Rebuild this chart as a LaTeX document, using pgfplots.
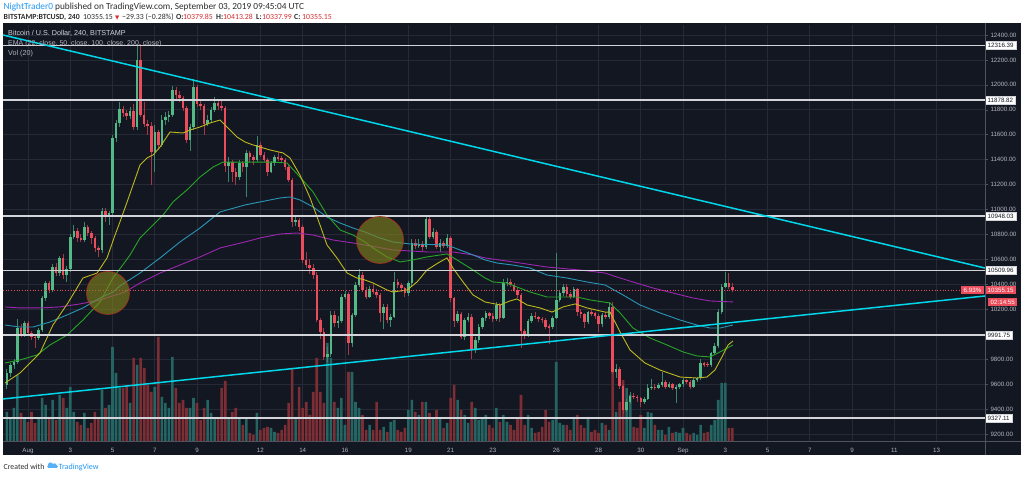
\documentclass[border=0pt]{standalone}
\usepackage{pgfplots}
\pgfplotsset{compat=1.18}
\usepackage{pgfplotstable}
\usepackage{fontspec}
\setmainfont{Liberation Sans}
\newfontfamily\dejavu{DejaVu Sans}
\newfontfamily\carl{Carlito}
\definecolor{bg}{RGB}{19,23,34}
\definecolor{gridc}{RGB}{38,42,54}
\definecolor{tickc}{RGB}{178,181,190}
\definecolor{sepc}{RGB}{80,83,94}
\definecolor{upc}{RGB}{83,185,135}
\definecolor{dnc}{RGB}{235,77,92}
\definecolor{upw}{RGB}{60,135,105}
\definecolor{dnw}{RGB}{165,58,70}
\definecolor{volup}{RGB}{36,100,98}
\definecolor{voldn}{RGB}{124,46,52}
\definecolor{emaa}{RGB}{190,185,30}
\definecolor{emab}{RGB}{40,165,40}
\definecolor{emac}{RGB}{40,150,180}
\definecolor{emad}{RGB}{156,39,176}
\definecolor{cyanl}{RGB}{0,215,235}
\definecolor{hl}{RGB}{210,212,218}
\definecolor{tvblue}{RGB}{33,150,243}
\definecolor{hdrred}{RGB}{215,45,50}
\definecolor{hdrtxt}{RGB}{45,45,45}
\definecolor{legc}{RGB}{209,212,220}
\definecolor{olivec}{RGB}{128,128,28}
\definecolor{circedge}{RGB}{170,45,30}

\pgfplotstableread{
k o h l c v
0 9593 9720 9560 9687 29
1 9687 9770 9660 9754 23
2 9754 9800 9720 9775 33
3 9775 10120 9760 10053 66
4 10053 10080 9975 9994 28
5 9994 10110 9980 10088 23
6 10088 10105 9990 10007 19
7 10007 10030 9950 9981 29
8 9981 10000 9890 9973 18
9 9973 10050 9950 10034 23
10 10034 10310 10020 10290 43
11 10290 10430 10270 10409 36
12 10409 10430 10330 10355 24
13 10355 10560 10340 10542 41
14 10542 10570 10470 10489 21
15 10489 10630 10470 10609 46
16 10609 10640 10440 10475 43
17 10475 10550 10420 10524 33
18 10524 10800 10500 10783 54
19 10783 10880 10760 10828 29
20 10828 10850 10740 10770 19
21 10770 10800 10740 10756 16
22 10756 10900 10740 10858 28
23 10858 10880 10790 10810 13
24 10810 10830 10720 10770 18
25 10770 10790 10660 10689 29
26 10689 10710 10620 10676 24
27 10676 11010 10650 10989 51
28 10989 11010 10900 10948 33
29 10948 10990 10880 10970 36
30 10970 11600 10950 11571 94
31 11571 11720 11540 11692 68
32 11692 11860 11660 11807 53
33 11807 11830 11740 11772 53
34 11772 11800 11720 11753 56
35 11753 11820 11730 11790 38
36 11790 11850 11640 11665 83
37 11665 12310 11640 12200 76
38 12200 12325 11740 11760 83
39 11760 11860 11660 11690 73
40 11690 11720 11600 11670 56
41 11670 11700 11200 11464 49
42 11464 11680 11300 11625 54
43 11625 11640 11480 11518 104
44 11518 11760 11500 11718 44
45 11718 11780 11680 11740 38
46 11740 11790 11700 11758 33
47 11758 11990 11740 11959 84
48 11959 11980 11890 11919 53
49 11919 11950 11860 11892 38
50 11892 11910 11790 11812 41
51 11812 11830 11530 11560 33
52 11560 11690 11470 11660 33
53 11660 12050 11640 11985 43
54 11985 12000 11820 11845 38
55 11845 11880 11800 11830 21
56 11830 11850 11600 11690 33
57 11690 11760 11670 11718 41
58 11718 11820 11700 11798 28
59 11798 11900 11780 11858 23
60 11858 11880 11800 11830 23
61 11830 11880 11790 11815 53
62 11815 11830 11300 11350 60
63 11350 11420 11220 11384 23
64 11384 11400 11220 11304 29
65 11304 11330 11200 11264 33
66 11264 11400 11240 11371 23
67 11371 11390 11300 11345 16
68 11345 11480 11100 11451 23
69 11451 11470 11380 11420 8
70 11420 11440 11360 11395 6
71 11395 11590 11380 11518 28
72 11518 11540 11420 11438 11
73 11438 11460 11380 11398 13
74 11398 11410 11270 11304 14
75 11304 11390 11290 11371 13
76 11371 11440 11350 11424 9
77 11424 11460 11390 11410 8
78 11410 11430 11370 11395 11
79 11395 11410 11320 11344 16
80 11344 11360 11220 11237 38
81 11237 11250 10860 10903 73
82 10903 10940 10870 10915 24
83 10915 10930 10830 10863 54
84 10863 10880 10570 10596 33
85 10596 10660 10530 10556 39
86 10556 10600 10480 10529 26
87 10529 10560 10440 10475 49
88 10475 10500 10100 10115 83
89 10115 10130 9960 10021 49
90 10021 10050 9790 9820 38
91 9820 9900 9780 9840 98
92 9840 10190 9820 10155 83
93 10155 10190 10060 10093 39
94 10093 10150 10050 10110 33
95 10110 10320 10090 10302 43
96 10302 10350 10280 10320 16
97 10320 10340 9830 9928 69
98 9928 10170 9900 10155 69
99 10155 10420 10140 10395 39
100 10395 10520 10380 10475 33
101 10475 10500 10340 10355 26
102 10355 10380 10280 10302 11
103 10302 10390 10290 10361 16
104 10361 10400 10320 10342 11
105 10342 10360 10290 10315 39
106 10315 10330 10100 10168 11
107 10168 10240 10040 10222 14
108 10222 10240 10090 10115 9
109 10115 10160 10061 10142 19
110 10142 10500 10130 10422 21
111 10422 10440 10370 10395 11
112 10395 10410 10340 10368 9
113 10368 10380 10300 10328 13
114 10328 10430 10310 10409 31
115 10409 10760 10390 10730 41
116 10730 10760 10680 10710 29
117 10710 10760 10690 10720 26
118 10720 10750 10670 10700 39
119 10700 10955 10680 10925 39
120 10925 10940 10760 10783 28
121 10783 10850 10760 10818 23
122 10818 10840 10680 10703 31
123 10703 10760 10660 10735 23
124 10735 10750 10690 10710 13
125 10710 10800 10690 10770 18
126 10770 10790 10260 10288 43
127 10288 10300 10060 10110 56
128 10110 10190 10090 10160 41
129 10160 10180 9960 9975 31
130 9975 10130 9950 10115 26
131 10115 10170 10100 10141 18
132 10141 10160 9800 9874 39
133 9874 9980 9850 9954 33
134 9954 10080 9930 10060 21
135 10060 10140 10040 10128 23
136 10128 10190 10110 10168 26
137 10168 10180 10120 10150 16
138 10150 10170 10100 10126 13
139 10126 10260 10110 10235 33
140 10235 10250 10100 10133 19
141 10133 10440 10120 10409 26
142 10409 10450 10390 10422 19
143 10422 10440 10380 10396 16
144 10396 10410 10340 10355 11
145 10355 10370 10290 10315 23
146 10315 10330 9893 10026 46
147 10026 10040 9960 9995 16
148 9995 10120 9980 10106 26
149 10106 10170 10090 10149 13
150 10149 10180 10120 10138 8
151 10138 10150 10100 10126 9
152 10126 10140 10090 10115 14
153 10115 10130 10040 10061 31
154 10061 10080 9920 10058 19
155 10058 10150 10040 10133 21
156 10133 10649 10120 10275 79
157 10275 10350 10260 10329 18
158 10329 10400 10310 10382 16
159 10382 10400 10300 10320 16
160 10320 10340 10280 10302 11
161 10302 10380 10290 10360 24
162 10360 10370 10150 10176 26
163 10176 10200 10130 10160 16
164 10160 10170 10050 10101 13
165 10101 10190 10080 10176 24
166 10176 10200 10150 10168 9
167 10168 10180 10120 10150 11
168 10150 10160 10020 10080 8
169 10080 10170 10060 10155 18
170 10155 10180 10120 10140 16
171 10140 10260 10120 10221 11
172 10221 10260 9680 9700 69
173 9700 9760 9650 9720 29
174 9720 9740 9560 9588 39
175 9588 9600 9360 9393 61
176 9393 9480 9380 9460 53
177 9460 9540 9440 9508 46
178 9508 9530 9480 9500 14
179 9500 9510 9460 9486 13
180 9486 9500 9420 9454 26
181 9454 9500 9440 9481 13
182 9481 9600 9470 9567 29
183 9567 9640 9550 9580 28
184 9580 9600 9550 9570 16
185 9570 9610 9560 9593 11
186 9593 9700 9580 9620 11
187 9620 9630 9560 9580 6
188 9580 9620 9570 9599 14
189 9599 9610 9550 9567 8
190 9567 9590 9446 9575 9
191 9575 9610 9560 9600 8
192 9600 9650 9580 9633 13
193 9633 9640 9600 9620 8
194 9620 9630 9560 9580 6
195 9580 9650 9570 9633 8
196 9633 9660 9620 9647 6
197 9647 9800 9630 9767 16
198 9767 9780 9740 9760 8
199 9760 9780 9740 9755 9
200 9755 9860 9740 9847 16
201 9847 9930 9830 9909 21
202 9909 10200 9890 10181 41
203 10181 10400 10160 10382 58
204 10382 10502 10370 10409 58
205 10409 10489 10360 10379.85 13
206 10379.85 10413.28 10337.99 10355.15 13
}\candles

\pgfplotsset{tvax/.style={scale only axis, width=982pt, height=416pt,
  at={(3pt,35pt)}, anchor=south west, xmin=-1.183, xmax=45.29}}

\begin{document}
\begin{tikzpicture}[x=1pt,y=1pt]
\useasboundingbox (0,0) rectangle (1024,476);
\fill[white] (0,0) rectangle (1024,476);
\fill[bg] (3,21) rectangle (1021,452.5);

% grid and ticks
\begin{axis}[tvax, ymin=9143.9, ymax=12480.2,
  axis line style={draw=none},
  xtick={0,2,4,6,8,11,13,15,18,20,22,25,27,29,31,33,35,37,39,41,43},
  xticklabels={Aug,3,5,7,9,12,14,16,19,21,23,26,28,30,Sep,3,5,7,9,11,13},
  ytick={9200,9400,9600,9800,10000,10200,10400,10600,10800,11000,11200,11400,11600,11800,12000,12200,12400},
  yticklabels={9200.00,9400.00,9600.00,9800.00,,10200.00,10400.00,10600.00,10800.00,11000.00,11200.00,11400.00,11600.00,11800.00,12000.00,12200.00,12400.00},
  scaled y ticks=false,
  yticklabel pos=right, ytick pos=right, xtick pos=bottom,
  grid=major, major grid style={draw=gridc, line width=0.7pt},
  tick align=outside, major tick length=3pt,
  xtick style={draw=none},
  ytick style={draw=sepc, line width=0.5pt},
  ticklabel style={font=\fontsize{6.2}{7}\selectfont, text=tickc},
  xticklabel style={yshift=-1pt},
  yticklabel style={xshift=-1pt}]
\end{axis}

% volume
\begin{axis}[tvax, ymin=0, ymax=416, hide axis]
\addplot[ybar, bar width=2.6pt, bar shift=0pt, fill=volup, draw=none,
  restrict expr to domain={\thisrow{c}-\thisrow{o}}{0:5000}]
  table[x expr=\thisrow{k}/6-1, y=v] {\candles};
\addplot[ybar, bar width=2.6pt, bar shift=0pt, fill=voldn, draw=none,
  restrict expr to domain={\thisrow{c}-\thisrow{o}}{-5000:-0.001}]
  table[x expr=\thisrow{k}/6-1, y=v] {\candles};
\end{axis}

% price
\begin{axis}[tvax, ymin=9143.9, ymax=12480.2, hide axis, clip mode=individual]
% wicks
\addplot[draw=none, mark=none,
  restrict expr to domain={\thisrow{c}-\thisrow{o}}{0:5000},
  error bars/.cd, y dir=minus, y explicit, error mark=none,
  error bar style={draw=upw, line width=0.8pt}]
  table[x expr=\thisrow{k}/6-1, y=h, y error minus expr={\thisrow{h}-\thisrow{l}}] {\candles};
\addplot[draw=none, mark=none,
  restrict expr to domain={\thisrow{c}-\thisrow{o}}{-5000:-0.001},
  error bars/.cd, y dir=minus, y explicit, error mark=none,
  error bar style={draw=dnw, line width=0.8pt}]
  table[x expr=\thisrow{k}/6-1, y=h, y error minus expr={\thisrow{h}-\thisrow{l}}] {\candles};
% bodies
\addplot[draw=none, mark=none,
  restrict expr to domain={\thisrow{c}-\thisrow{o}}{0:5000},
  error bars/.cd, y dir=both, y explicit, error mark=none,
  error bar style={draw=upc, line width=2.5pt}]
  table[x expr=\thisrow{k}/6-1, y expr={\thisrow{o}+0.5*(\thisrow{c}-\thisrow{o})},
        y error expr={max(0.5*abs(\thisrow{c}-\thisrow{o}),4)}] {\candles};
\addplot[draw=none, mark=none,
  restrict expr to domain={\thisrow{c}-\thisrow{o}}{-5000:-0.001},
  error bars/.cd, y dir=both, y explicit, error mark=none,
  error bar style={draw=dnc, line width=2.5pt}]
  table[x expr=\thisrow{k}/6-1, y expr={\thisrow{o}+0.5*(\thisrow{c}-\thisrow{o})},
        y error expr={max(0.5*abs(\thisrow{c}-\thisrow{o}),4)}] {\candles};

% EMA 200
\addplot[emad, line width=0.9pt] coordinates {(-1.09,10219) (-0.38,10211) (0.57,10211) (1.51,10219) (2.46,10243) (3.41,10275) (4.59,10339) (5.30,10411) (6.25,10491) (7.19,10555) (8.14,10620) (9.09,10692) (10.27,10740) (10.98,10772) (11.93,10804) (12.73,10812) (13.49,10796) (14.43,10756) (15.38,10732) (15.95,10716) (17.27,10676) (18.88,10660) (20.11,10660) (21.06,10636) (21.63,10612) (22.95,10580) (24.56,10539) (26.12,10515) (27.31,10491) (27.87,10459) (28.63,10419) (29.58,10371) (30.52,10331) (31.47,10291) (32.28,10267) (33.36,10259)};
% EMA 100
\addplot[emac, line width=0.9pt] coordinates {(-1.09,10074) (-0.38,10058) (0.24,10058) (1.04,10098) (1.85,10155) (2.60,10211) (3.41,10291) (4.02,10339) (4.35,10387) (5.30,10491) (6.25,10612) (7.19,10740) (8.14,10852) (9.09,10981) (10.27,11037) (10.98,11061) (11.93,11093) (12.40,11101) (12.87,11077) (13.49,11021) (14.15,10940) (14.77,10892) (15.38,10852) (15.95,10820) (16.52,10780) (17.27,10740) (18.08,10724) (19.83,10716) (20.44,10676) (21.06,10636) (21.63,10596) (22.20,10571) (22.95,10555) (23.76,10531) (24.56,10475) (25.51,10451) (26.46,10419) (27.31,10395) (28.16,10315) (28.96,10235) (29.91,10171) (30.86,10114) (31.66,10074) (32.28,10050) (32.75,10050) (33.36,10074)};
% EMA 50
\addplot[emab, line width=0.9pt] coordinates {(-1.09,9769) (-0.38,9794) (0.43,9834) (1.04,9914) (1.85,9994) (2.60,10114) (3.41,10259) (4.02,10451) (4.59,10580) (4.83,10636) (5.30,10772) (5.92,10876) (6.39,10956) (6.86,11061) (7.52,11157) (8.14,11261) (8.76,11341) (9.23,11381) (10.27,11381) (11.59,11381) (12.26,11373) (12.87,11261) (13.49,11141) (14.15,10956) (14.77,10836) (15.38,10796) (15.95,10740) (16.33,10692) (16.99,10620) (17.61,10580) (18.22,10596) (18.88,10620) (19.83,10644) (20.30,10596) (20.92,10531) (21.63,10451) (22.01,10419) (22.67,10411) (23.14,10379) (23.76,10339) (24.56,10299) (25.98,10299) (26.60,10275) (27.54,10251) (28.02,10171) (28.63,10050) (29.44,9970) (30.24,9914) (31.00,9858) (31.66,9826) (32.28,9818) (32.75,9858) (33.36,9914)};
% EMA 22
\addplot[emaa, line width=0.9pt] coordinates {(-1.09,9609) (-0.38,9689) (0.57,9850) (1.18,10074) (1.89,10251) (2.60,10451) (3.27,10491) (3.74,10612) (4.12,10796) (4.35,10900) (4.69,11061) (4.97,11197) (5.30,11357) (5.63,11414) (5.92,11438) (6.25,11502) (6.72,11622) (7.34,11614) (7.67,11638) (8.14,11662) (8.61,11694) (9.09,11718) (9.42,11662) (9.89,11582) (10.27,11542) (10.65,11518) (11.45,11478) (12.07,11454) (12.40,11414) (12.87,11277) (13.35,11093) (13.82,10876) (14.15,10716) (14.62,10612) (15.10,10491) (15.57,10451) (15.95,10435) (16.33,10411) (16.99,10355) (17.27,10339) (17.94,10355) (18.41,10419) (18.88,10515) (19.40,10571) (19.83,10612) (20.11,10531) (20.59,10419) (21.06,10315) (21.63,10259) (22.34,10235) (22.81,10267) (23.14,10283) (23.62,10235) (24.23,10211) (24.80,10178) (25.32,10219) (25.89,10243) (26.46,10211) (27.31,10178) (27.54,10178) (28.02,10018) (28.49,9874) (29.20,9769) (29.91,9713) (30.86,9657) (31.66,9649) (32.13,9657) (32.51,9713) (32.84,9818) (33.13,9914) (33.36,9946)};

% current price line
\addplot[dnc, dotted, line width=0.7pt] coordinates {(-1.183,10355.15) (45.29,10355.15)};
% horizontal levels
\addplot[hl, line width=1.6pt] coordinates {(-1.183,12316.39) (45.29,12316.39)};
\addplot[hl, line width=1.6pt] coordinates {(-1.183,11878.82) (45.29,11878.82)};
\addplot[hl, line width=1.6pt] coordinates {(-1.183,10948.03) (45.29,10948.03)};
\addplot[hl, line width=1.6pt] coordinates {(-1.183,10509.96) (45.29,10509.96)};
\addplot[hl, line width=1.6pt] coordinates {(-1.183,9991.75) (45.29,9991.75)};
\addplot[hl, line width=1.6pt] coordinates {(-1.183,9327.11) (45.29,9327.11)};
% trend lines
\addplot[cyanl, line width=1.5pt] coordinates {(-1.183,12400) (45.29,10531)};
\addplot[cyanl, line width=1.5pt] coordinates {(-1.183,9481) (45.29,10307)};
% circles
\addplot[only marks, mark=*, mark size=21.5pt, mark options={fill=olivec, fill opacity=0.65, draw=circedge, line width=0.6pt}] coordinates {(3.786,10331)};
\addplot[only marks, mark=*, mark size=23.5pt, mark options={fill=olivec, fill opacity=0.65, draw=circedge, line width=0.6pt}] coordinates {(16.66,10756)};

% price labels on the scale
\tikzset{plab/.style={font=\fontsize{6.2}{7}\selectfont, inner ysep=1.2pt, inner xsep=2.5pt, anchor=west, minimum height=8pt}}
\node[plab, fill=white, text=bg, draw=hl, line width=0.4pt] at (axis cs:45.29,12316.39) {12316.39};
\node[plab, fill=white, text=bg, draw=hl, line width=0.4pt] at (axis cs:45.29,11878.82) {11878.82};
\node[plab, fill=white, text=bg, draw=hl, line width=0.4pt] at (axis cs:45.29,10948.03) {10948.03};
\node[plab, fill=white, text=bg, draw=hl, line width=0.4pt] at (axis cs:45.29,10509.96) {10509.96};
\node[plab, fill=white, text=bg, draw=hl, line width=0.4pt] at (axis cs:45.29,9991.75) {9991.75};
\node[plab, fill=white, text=bg, draw=hl, line width=0.4pt] at (axis cs:45.29,9327.11) {9327.11};
\node[plab, fill=dnc, text=white] at (axis cs:45.29,10355.15) {10355.15};
\node[plab, fill=dnc, text=white, xshift=3pt] at (axis cs:45.29,10258.7) {02:14:55};
\node[plab, fill=dnc, text=white, anchor=east, xshift=-1pt] at (axis cs:45.29,10355.15) {6.93\%};
\end{axis}

% separators
\draw[sepc, line width=0.6pt] (985,21) -- (985,452.5);
\draw[sepc, line width=0.6pt] (3,35) -- (1021,35);

% in-chart legend
\node[anchor=base west, inner sep=0pt, text=legc, font=\fontsize{7.2}{8}\selectfont] at (8,440) {Bitcoin / U.S. Dollar, 240, BITSTAMP};
\node[anchor=base west, inner sep=0pt, text=legc!85!black, font=\fontsize{7}{8}\selectfont] at (8,430) {EMA (22, close, 50, close, 100, close, 200, close)};
\node[anchor=base west, inner sep=0pt, text=legc!85!black, font=\fontsize{7.2}{8}\selectfont] at (8,420) {Vol (20)};

% header line 1
\node[anchor=base west, inner sep=0pt, text=hdrtxt, font=\carl\fontsize{9.3}{10}\selectfont] at (3.5,466) {{\color{tvblue}NightTrader0} published on TradingView.com, September 03, 2019 09:45:04 UTC};
% header line 2
\begin{scope}[every node/.style={anchor=base west, inner sep=0pt, text=hdrtxt, font=\carl\fontsize{7.8}{8}\selectfont}]
\node at (3.5,456) {\bfseries BITSTAMP:BTCUSD, 240};
\node at (83,456) {10355.15};
\node[text=hdrred, font=\dejavu\fontsize{5.5}{6}\selectfont] at (115,456.5) {▼};
\node at (122,456) {−29.33 (−0.28\%)};
\node at (176,456) {\bfseries O:};
\node[text=hdrred] at (183,456) {10379.85};
\node at (216,456) {\bfseries H:};
\node[text=hdrred] at (223,456) {10413.28};
\node at (256,456) {\bfseries L:};
\node[text=hdrred] at (262,456) {10337.99};
\node at (294,456) {\bfseries C:};
\node[text=hdrred] at (302,456) {10355.15};
\end{scope}

% footer
\node[anchor=base west, inner sep=0pt, text=hdrtxt, font=\carl\fontsize{7.8}{8}\selectfont] at (3.5,7) {Created with};
\fill[tvblue!75] (48,8) rectangle (57,11);
\fill[tvblue!75] (50.5,11) circle (2.6);
\fill[tvblue!75] (54.5,10.5) circle (2.2);
\fill[tvblue!75] (48.5,9.5) circle (1.5);
\fill[tvblue!75] (56.5,9.5) circle (1.5);
\node[anchor=base west, inner sep=0pt, text=tvblue, font=\carl\fontsize{8}{8}\selectfont] at (58.5,7) {TradingView};
\end{tikzpicture}
\end{document}
